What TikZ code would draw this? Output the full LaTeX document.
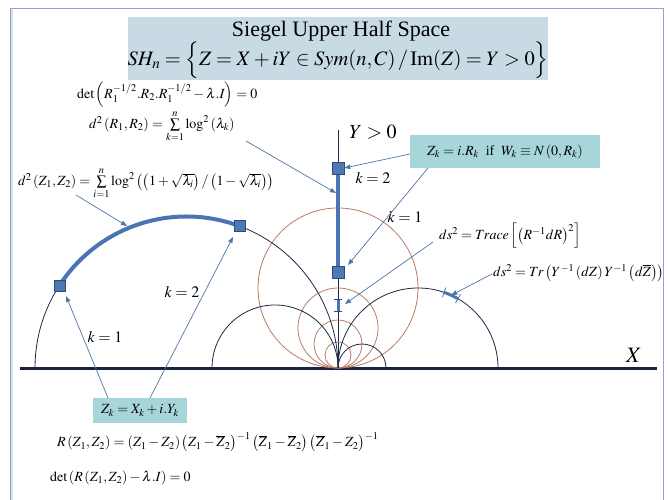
\documentclass[tikz,border=0pt]{standalone}
\usepackage{amsmath}
\usepackage{mathptmx}
\usepackage{fontspec}
\setmainfont{Liberation Serif}
\usetikzlibrary{calc,arrows.meta}
\definecolor{framec}{HTML}{8FA6C9}
\definecolor{titlebg}{HTML}{C8DAE4}
\definecolor{tealbg}{HTML}{A6D6DA}
\definecolor{axisc}{HTML}{17233F}
\definecolor{geoc}{HTML}{1C2A45}
\definecolor{horoc}{HTML}{B87C64}
\definecolor{thickc}{HTML}{4A74B4}
\definecolor{arrc}{HTML}{4F74A8}
\definecolor{sqfill}{HTML}{4F78B5}
\definecolor{sqdraw}{HTML}{2F4A75}
\tikzset{
  geo/.style={draw=geoc, line width=0.8pt},
  horo/.style={draw=horoc, line width=0.8pt},
  thickline/.style={draw=thickc, line width=4.5pt},
  arrline/.style={draw=arrc, line width=0.7pt, -{Triangle[length=6pt,width=4.5pt]}},
  sqbox/.style={rectangle, fill=sqfill, draw=sqdraw, line width=0.6pt, minimum size=11pt, inner sep=0pt},
  fml/.style={inner sep=1pt, font=\fontsize{14}{16}\selectfont},
  klab/.style={inner sep=1pt, font=\fontsize{16}{18}\selectfont},
  tealbox/.style={fill=tealbg, inner sep=0pt, font=\fontsize{14}{16}\selectfont},
}
\begin{document}
\begin{tikzpicture}[x=1pt,y=-1pt]
\useasboundingbox (0,0) rectangle (670,500);
% frame
\fill[framec!35] (10,9) rectangle (13,500);
\draw[framec, line width=1pt] (10,505) -- (10,9) -- (663,9) -- (663,505);
% title
\node[fill=titlebg, minimum width=420pt, minimum height=63pt, inner sep=0pt] (titlebox) at (338,48.5) {};
\node[inner sep=0pt, font=\fontsize{22}{24}\selectfont] (title) at (341,31) {Siegel Upper Half Space};
\node[inner sep=0pt, font=\fontsize{20.5}{24}\selectfont] (shn) at (338,60)
  {$SH_n=\Big\{Z=X+iY\in Sym(n,C)\,/\,\mathrm{Im}(Z)=Y>0\Big\}$};
% axes
\coordinate (O) at (338,368);
\coordinate (xl) at (20,368);
\coordinate (xr) at (657,368);
\coordinate (ytop) at (338,130);
\draw[axisc, line width=3pt] (xl) -- (xr);
\draw[geoc, line width=0.9pt] (O) -- (ytop);
\node[inner sep=0pt, font=\fontsize{22}{24}\selectfont] (xlab) at (634,355) {$X$};
\node[inner sep=0pt, font=\fontsize{20}{22}\selectfont] (ylab) at (373,132) {$Y>0$};
% horocycles (brown)
\foreach \r in {80,40,24,13} {
  \draw[horo] (338,368-\r) circle[radius=\r];
}
% geodesics (dark semicircles)
\coordinate (C1) at (186.5,368);
\coordinate (C3) at (418,368);
\draw[geo] (35,368) arc[start angle=180, end angle=360, radius=151.5];
\draw[geo] (212,368) arc[start angle=180, end angle=360, radius=63];
\draw[geo] (O) arc[start angle=180, end angle=360, radius=80];
\draw[geo] (O) arc[start angle=180, end angle=360, radius=24];
% thick geodesic segment on left semicircle
\coordinate (pA) at ($(C1)+(213:151.5)$);
\coordinate (pB) at ($(C1)+(290.5:151.5)$);
\draw[thickline, line width=4pt] (pA) arc[start angle=213, end angle=290.5, radius=151.5];
\node[sqbox] (sqA) at (pA) {};
\node[sqbox] (sqB) at (pB) {};
% thick segment on Y axis
\coordinate (pk2) at (338,168);
\coordinate (pk1) at (338,272);
\draw[thickline] (pk2) -- (pk1);
\node[sqbox, minimum size=12pt] (sqk2) at (pk2) {};
\node[sqbox, minimum size=12pt] (sqk1) at (pk1) {};
% small element on Y axis
\coordinate (imA) at (338,299);
\coordinate (imB) at (338,311);
\draw[thickc, line width=3pt] (imA) -- (imB);
\draw[sqdraw, line width=0.7pt] ($(imA)+(-4,0)$) -- ($(imA)+(4,0)$) ($(imB)+(-4,0)$) -- ($(imB)+(4,0)$);
% small element on right semicircle
\coordinate (mA) at ($(C3)+(289:80)$);
\coordinate (mB) at ($(C3)+(300:80)$);
\draw[thickc, line width=3pt] (mA) arc[start angle=289, end angle=300, radius=80];
\draw[thickc, line width=0.8pt] ($(C3)+(289:75)$) -- ($(C3)+(289:85)$) ($(C3)+(300:75)$) -- ($(C3)+(300:85)$);
\coordinate (mM) at ($(C3)+(294.5:80)$);
% formulas left
\node[fml, anchor=west] (detR) at (76,95)
  {$\det\left(R_1^{-1/2}.R_2.R_1^{-1/2}-\lambda.I\right)=0$};
\node[fml, anchor=west] (dR) at (88,126)
  {$d^2\left(R_1,R_2\right)=\sum\limits_{k=1}^{n}\log^2\left(\lambda_k\right)$};
\node[fml, anchor=west] (dZ) at (17,183)
  {$d^2\left(Z_1,Z_2\right)=\sum\limits_{i=1}^{n}\log^2\left(\left(1+\sqrt{\lambda_i}\right)/\left(1-\sqrt{\lambda_i}\right)\right)$};
% right formulas
\node[tealbox, minimum width=190pt, minimum height=33pt] (boxR) at (505,152)
  {$Z_k=i.R_k$\ \ if\ \ $W_k\equiv N\left(0,R_k\right)$};
\node[fml, anchor=west] (trace) at (438,236)
  {$ds^2=Trace\left[\left(R^{-1}dR\right)^2\right]$};
\node[fml, anchor=west] (trf) at (492,273)
  {$ds^2=Tr\left(Y^{-1}\left(dZ\right)Y^{-1}\left(d\overline{Z}\right)\right)$};
% k labels
\node[klab] (k2r) at (373,178) {$k=2$};
\node[klab] (k1r) at (405,217) {$k=1$};
\node[klab] (k2l) at (182,292) {$k=2$};
\node[klab] (k1l) at (105,337) {$k=1$};
% bottom
\node[tealbox, minimum width=94pt, minimum height=25pt] (boxX) at (140,410.5)
  {$Z_k=X_k+i.Y_k$};
\node[fml, anchor=west] (Rf) at (56,442)
  {$R\left(Z_1,Z_2\right)=\left(Z_1-Z_2\right)\left(Z_1-\overline{Z}_2\right)^{-1}\left(\overline{Z}_1-\overline{Z}_2\right)\left(\overline{Z}_1-Z_2\right)^{-1}$};
\node[fml, anchor=west] (detZ) at (49,478)
  {$\det\left(R\left(Z_1,Z_2\right)-\lambda.I\right)=0$};
% connectors
\coordinate (s1) at (246,141);
\coordinate (e1) at (336,193);
\draw[arrline] (s1) -- (e1);
\coordinate (s2) at (76,195);
\coordinate (e2) at (127,226);
\draw[arrline] (s2) -- (e2);
\coordinate (s3) at (410,154);
\draw[arrline] (s3) -- (sqk2.east);
\coordinate (s4) at (428,168);
\coordinate (e4) at (348,265);
\draw[arrline] (s4) -- (e4);
\coordinate (s5) at (433,242);
\coordinate (e5) at (345,304);
\draw[arrline] (s5) -- (e5);
\coordinate (s6) at (492,274);
\draw[arrline] (s6) -- (mM);
\coordinate (s7) at (108,398);
\coordinate (e7) at (66,296);
\draw[arrline] (s7) -- (e7);
\coordinate (s8) at (150,398);
\coordinate (e8) at (233,237);
\draw[arrline] (s8) -- (e8);
\end{tikzpicture}
\end{document}
